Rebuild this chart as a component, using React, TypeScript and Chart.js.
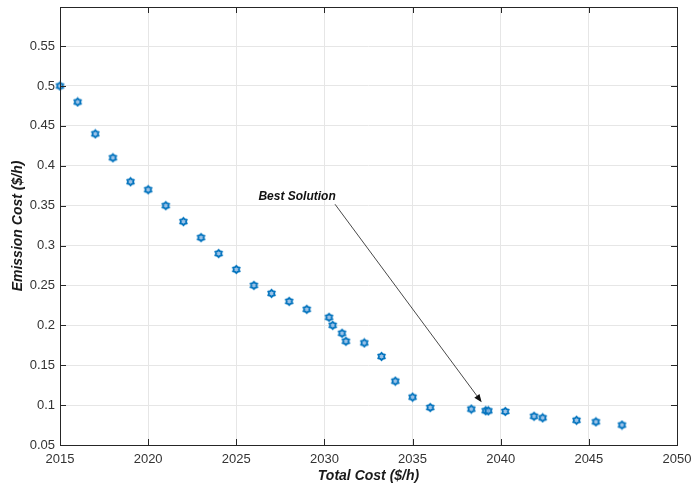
import { useEffect, useRef } from "react";
import { Chart, registerables } from "chart.js";

Chart.register(...registerables);

// Pareto front: total cost vs. emission cost
const totalCost = [
  2015, 2016, 2017, 2018, 2019, 2020, 2021, 2022, 2023, 2024, 2025, 2026, 2027,
  2028, 2029, 2030.26, 2030.47, 2031.0, 2031.22, 2032.26, 2033.24, 2034.02,
  2035.0, 2036.0, 2038.33, 2039.15, 2039.3, 2040.26, 2041.89, 2042.38, 2044.3,
  2045.4, 2046.88,
];
const emissionCost = [
  0.5, 0.48, 0.44, 0.41, 0.38, 0.37, 0.35, 0.33, 0.31, 0.29, 0.27, 0.25, 0.24,
  0.23, 0.22, 0.21, 0.2, 0.19, 0.18, 0.178, 0.161, 0.13, 0.11, 0.097, 0.095,
  0.093, 0.0928, 0.092, 0.086, 0.084, 0.081, 0.079, 0.075,
];

const xTicks = [2015, 2020, 2025, 2030, 2035, 2040, 2045, 2050];
const yTicks = [0.05, 0.1, 0.15, 0.2, 0.25, 0.3, 0.35, 0.4, 0.45, 0.5, 0.55];
const xMin = 2015;
const xMax = 2050;
const yMin = 0.05;
const yMax = 0.599;

// "Best Solution" callout, in data coordinates
const calloutText = "Best Solution";
const calloutTextAt = { x: 2028.45, y: 0.3613 };
const arrowFrom = { x: 2030.6, y: 0.3518 };
const arrowTo = { x: 2038.92, y: 0.1036 };

const FONT = "'Liberation Sans', Arial, Helvetica, sans-serif";
const AXIS_COLOR = "#262626";
const MARKER_COLOR = "#0072BD";

function makeHexagram(): HTMLCanvasElement {
  const size = 11;
  const c = document.createElement("canvas");
  c.width = size;
  c.height = size;
  const ctx = c.getContext("2d")!;
  const cx = size / 2;
  const cy = size / 2;
  const ro = 3.7;
  const ri = 2.6;
  ctx.beginPath();
  for (let i = 0; i < 12; i++) {
    const r = i % 2 === 0 ? ro : ri;
    const a = -Math.PI / 2 + (i * Math.PI) / 6;
    const px = cx + r * Math.cos(a);
    const py = cy + r * Math.sin(a);
    if (i === 0) ctx.moveTo(px, py);
    else ctx.lineTo(px, py);
  }
  ctx.closePath();
  ctx.fillStyle = "rgba(140,185,228,0.85)";
  ctx.fill();
  ctx.strokeStyle = MARKER_COLOR;
  ctx.lineWidth = 1.8;
  ctx.stroke();
  return c;
}

const frameAndCallout = {
  id: "frameAndCallout",
  afterDraw(chart: any) {
    const { ctx, chartArea: a, scales } = chart;
    const xs = scales.x;
    const ys = scales.y;
    ctx.save();

    // axes box
    ctx.strokeStyle = AXIS_COLOR;
    ctx.lineWidth = 1;
    ctx.strokeRect(
      Math.round(a.left) + 0.5,
      Math.round(a.top) + 0.5,
      Math.round(a.right - a.left),
      Math.round(a.bottom - a.top)
    );

    // inward tick marks
    const tl = 6;
    ctx.beginPath();
    for (const v of xTicks) {
      const px = Math.round(xs.getPixelForValue(v)) + 0.5;
      ctx.moveTo(px, a.bottom);
      ctx.lineTo(px, a.bottom - tl);
      ctx.moveTo(px, a.top);
      ctx.lineTo(px, a.top + tl);
    }
    for (const v of yTicks) {
      const py = Math.round(ys.getPixelForValue(v)) + 0.5;
      ctx.moveTo(a.left, py);
      ctx.lineTo(a.left + tl, py);
      ctx.moveTo(a.right, py);
      ctx.lineTo(a.right - tl, py);
    }
    ctx.stroke();

    // callout text
    ctx.fillStyle = "#111111";
    ctx.font = `italic bold 12px ${FONT}`;
    ctx.textAlign = "center";
    ctx.textBaseline = "middle";
    ctx.fillText(
      calloutText,
      xs.getPixelForValue(calloutTextAt.x),
      ys.getPixelForValue(calloutTextAt.y)
    );

    // callout arrow
    const x0 = xs.getPixelForValue(arrowFrom.x);
    const y0 = ys.getPixelForValue(arrowFrom.y);
    const x1 = xs.getPixelForValue(arrowTo.x);
    const y1 = ys.getPixelForValue(arrowTo.y);
    const ang = Math.atan2(y1 - y0, x1 - x0);
    const hl = 8;
    const hw = 3.2;
    const bx = x1 - hl * Math.cos(ang);
    const by = y1 - hl * Math.sin(ang);
    ctx.strokeStyle = "#333333";
    ctx.lineWidth = 0.9;
    ctx.beginPath();
    ctx.moveTo(x0, y0);
    ctx.lineTo(bx, by);
    ctx.stroke();
    ctx.fillStyle = "#111111";
    ctx.beginPath();
    ctx.moveTo(x1, y1);
    ctx.lineTo(bx + hw * Math.sin(ang), by - hw * Math.cos(ang));
    ctx.lineTo(bx - hw * Math.sin(ang), by + hw * Math.cos(ang));
    ctx.closePath();
    ctx.fill();

    ctx.restore();
  },
};

export default function App() {
  const ref = useRef<HTMLCanvasElement | null>(null);

  useEffect(() => {
    document.body.style.margin = "0";
    const canvas = ref.current;
    if (!canvas) return;
    const marker = makeHexagram();
    const points = totalCost.map((x, i) => ({ x, y: emissionCost[i] }));

    const chart = new Chart(canvas, {
      type: "scatter",
      data: {
        datasets: [
          {
            data: points,
            pointStyle: marker as any,
            pointRadius: 5,
            pointHoverRadius: 5,
            clip: false as any,
          },
        ],
      },
      options: {
        animation: false,
        responsive: false,
        events: [],
        layout: { padding: { top: 7, right: 15, left: 0, bottom: 0 } },
        plugins: {
          legend: { display: false },
          tooltip: { enabled: false },
        },
        scales: {
          x: {
            type: "linear",
            min: xMin,
            max: xMax,
            afterFit: (s: any) => {
              s.height = 44;
              s.paddingLeft = 0;
              s.paddingRight = 0;
            },
            afterBuildTicks: (s: any) => {
              s.ticks = xTicks.map((value) => ({ value }));
            },
            grid: { color: "#e6e6e6", drawTicks: false },
            border: { display: false },
            ticks: {
              padding: 7,
              color: "#333333",
              font: { family: FONT, size: 13 },
              maxRotation: 0,
              callback: (v: any) => String(v),
            },
            title: {
              display: true,
              text: "Total Cost ($/h)",
              color: "#1a1a1a",
              font: { family: FONT, size: 14, weight: "bold", style: "italic" },
              padding: { top: 0, bottom: 4 },
            },
          },
          y: {
            type: "linear",
            min: yMin,
            max: yMax,
            afterFit: (s: any) => {
              s.width = 60;
              s.paddingTop = 0;
              s.paddingBottom = 0;
            },
            afterBuildTicks: (s: any) => {
              s.ticks = yTicks.map((value) => ({ value }));
            },
            grid: { color: "#e6e6e6", drawTicks: false },
            border: { display: false },
            ticks: {
              padding: 5,
              color: "#333333",
              font: { family: FONT, size: 13 },
              callback: (v: any) => String(Number(Number(v).toFixed(2))),
            },
            title: {
              display: true,
              text: "Emission Cost ($/h)",
              color: "#1a1a1a",
              font: { family: FONT, size: 14, weight: "bold", style: "italic" },
              padding: { top: 10, bottom: 0 },
            },
          },
        },
      },
      plugins: [frameAndCallout],
    });

    return () => chart.destroy();
  }, []);

  return (
    <div style={{ width: 692, height: 489, background: "#ffffff" }}>
      <canvas ref={ref} width={692} height={489} style={{ display: "block" }} />
    </div>
  );
}
